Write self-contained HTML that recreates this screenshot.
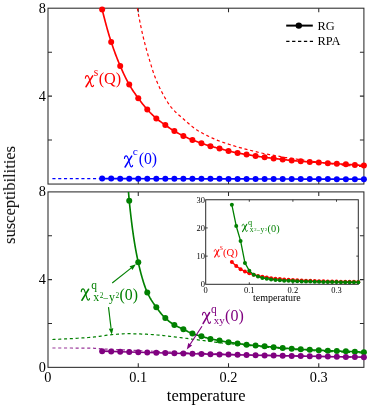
<!DOCTYPE html><html><head><meta charset="utf-8"><title>susceptibilities</title>
<style>html,body{margin:0;padding:0;background:#fff}svg{display:block}text{font-family:"Liberation Serif",serif}</style></head><body>
<svg width="370" height="409" viewBox="0 0 370 409">
<rect width="370" height="409" fill="#fff"/>
<g opacity="0.999">
<defs><clipPath id="c1"><rect x="48.0" y="8.2" width="315.9" height="177.85000000000002"/></clipPath>
<clipPath id="c2"><rect x="48.0" y="191.9" width="319.9" height="175.45000000000002"/></clipPath></defs>
<rect x="48.0" y="8.2" width="315.9" height="175.85000000000002" fill="none" stroke="#2a2a2a" stroke-width="1.05"/>
<path d="M138.26,8.2 v4.0 M138.26,184.05 v-4.0" stroke="#2a2a2a" stroke-width="1.05"/>
<path d="M228.51,8.2 v4.0 M228.51,184.05 v-4.0" stroke="#2a2a2a" stroke-width="1.05"/>
<path d="M318.77,8.2 v4.0 M318.77,184.05 v-4.0" stroke="#2a2a2a" stroke-width="1.05"/>
<path d="M48.0,140.09 h4.0 M363.9,140.09 h-4.0" stroke="#2a2a2a" stroke-width="1.05"/>
<path d="M48.0,96.12 h4.0 M363.9,96.12 h-4.0" stroke="#2a2a2a" stroke-width="1.05"/>
<path d="M48.0,52.16 h4.0 M363.9,52.16 h-4.0" stroke="#2a2a2a" stroke-width="1.05"/>
<g clip-path="url(#c1)"><path d="M137.30,8.10 L138.44,14.24 L139.58,20.13 L140.72,25.76 L141.85,31.09 L142.99,36.11 L144.13,40.79 L145.27,45.20 L146.41,49.37 L147.55,53.38 L148.69,57.27 L149.83,61.09 L150.96,64.89 L152.10,68.59 L153.24,72.10 L154.38,75.35 L155.52,78.30 L156.66,81.09 L157.80,83.74 L158.94,86.25 L160.07,88.64 L161.21,90.90 L162.35,93.06 L163.49,95.15 L164.63,97.19 L165.77,99.17 L166.91,101.06 L168.04,102.86 L169.18,104.56 L170.32,106.15 L171.46,107.61 L172.60,108.95 L173.74,110.20 L174.88,111.38 L176.02,112.49 L177.15,113.56 L178.29,114.58 L179.43,115.57 L180.57,116.55 L181.71,117.51 L182.85,118.49 L183.99,119.48 L185.13,120.48 L186.26,121.49 L187.40,122.49 L188.54,123.49 L189.68,124.47 L190.82,125.44 L191.96,126.37 L193.10,127.28 L194.23,128.15 L195.37,128.97 L196.51,129.74 L197.65,130.47 L198.79,131.16 L199.93,131.82 L201.07,132.46 L202.21,133.07 L203.34,133.66 L204.48,134.25 L205.62,134.82 L206.76,135.38 L207.90,135.95 L209.04,136.51 L210.18,137.06 L211.32,137.60 L212.45,138.13 L213.59,138.65 L214.73,139.16 L215.87,139.65 L217.01,140.12 L218.15,140.58 L219.29,141.02 L220.42,141.44 L221.56,141.84 L222.70,142.24 L223.84,142.62 L224.98,143.00 L226.12,143.37 L227.26,143.74 L228.40,144.11 L229.53,144.47 L230.67,144.83 L231.81,145.19 L232.95,145.55 L234.09,145.90 L235.23,146.24 L236.37,146.58 L237.51,146.92 L238.64,147.25 L239.78,147.57 L240.92,147.88 L242.06,148.19 L243.20,148.49 L244.34,148.79 L245.48,149.09 L246.61,149.38 L247.75,149.66 L248.89,149.95 L250.03,150.23 L251.17,150.52 L252.31,150.80 L253.45,151.09 L254.59,151.38 L255.72,151.66 L256.86,151.95 L258.00,152.22 L259.14,152.50 L260.28,152.76 L261.42,153.02 L262.56,153.27 L263.69,153.50 L264.83,153.73 L265.97,153.95 L267.11,154.16 L268.25,154.36 L269.39,154.57 L270.53,154.76 L271.67,154.96 L272.80,155.16 L273.94,155.35 L275.08,155.55 L276.22,155.75 L277.36,155.96 L278.50,156.17 L279.64,156.39 L280.78,156.61 L281.91,156.83 L283.05,157.05 L284.19,157.27 L285.33,157.49 L286.47,157.69 L287.61,157.89 L288.75,158.07 L289.88,158.24 L291.02,158.41 L292.16,158.56 L293.30,158.72 L294.44,158.87 L295.58,159.02 L296.72,159.17 L297.86,159.32 L298.99,159.48 L300.13,159.65 L301.27,159.81 L302.41,159.97 L303.55,160.13 L304.69,160.30 L305.83,160.45 L306.97,160.61 L308.10,160.76 L309.24,160.91 L310.38,161.05 L311.52,161.20 L312.66,161.34 L313.80,161.48 L314.94,161.63 L316.07,161.77 L317.21,161.92 L318.35,162.07 L319.49,162.22 L320.63,162.37 L321.77,162.52 L322.91,162.67 L324.05,162.82 L325.18,162.97 L326.32,163.12 L327.46,163.26 L328.60,163.40 L329.74,163.54 L330.88,163.69 L332.02,163.83 L333.16,163.98 L334.29,164.12 L335.43,164.26 L336.57,164.40 L337.71,164.54 L338.85,164.67 L339.99,164.80 L341.13,164.92 L342.26,165.04 L343.40,165.15 L344.54,165.26 L345.68,165.36 L346.82,165.46 L347.96,165.55 L349.10,165.64 L350.24,165.73 L351.37,165.82 L352.51,165.91 L353.65,165.99 L354.79,166.07 L355.93,166.15 L357.07,166.23 L358.21,166.30 L359.35,166.37 L360.48,166.43 L361.62,166.49 L362.76,166.55 L363.90,166.60" fill="none" stroke="#ff0000" stroke-width="1.2" stroke-dasharray="3.1,2.7"/></g>
<path d="M52.4,178.6 L102.15428571428572,178.6" fill="none" stroke="#0000ff" stroke-width="1.2" stroke-dasharray="3.1,2.7"/>
<path d="M102.15,9.50 L102.81,12.14 L103.47,14.74 L104.12,17.30 L104.78,19.82 L105.43,22.30 L106.09,24.73 L106.75,27.11 L107.40,29.45 L108.06,31.74 L108.71,33.97 L109.37,36.16 L110.03,38.29 L110.68,40.36 L111.34,42.38 L111.99,44.35 L112.65,46.28 L113.31,48.17 L113.96,50.02 L114.62,51.83 L115.27,53.61 L115.93,55.34 L116.59,57.05 L117.24,58.72 L117.90,60.36 L118.55,61.97 L119.21,63.55 L119.87,65.11 L120.52,66.64 L121.18,68.15 L121.83,69.63 L122.49,71.10 L123.15,72.55 L123.80,73.97 L124.46,75.36 L125.11,76.73 L125.77,78.07 L126.43,79.38 L127.08,80.66 L127.74,81.90 L128.39,83.11 L129.05,84.28 L129.71,85.42 L130.36,86.53 L131.02,87.61 L131.67,88.66 L132.33,89.68 L132.99,90.69 L133.64,91.67 L134.30,92.64 L134.95,93.59 L135.61,94.53 L136.27,95.45 L136.92,96.36 L137.58,97.27 L138.23,98.17 L138.89,99.06 L139.55,99.95 L140.20,100.82 L140.86,101.69 L141.51,102.54 L142.17,103.39 L142.83,104.22 L143.48,105.04 L144.14,105.84 L144.79,106.64 L145.45,107.41 L146.11,108.18 L146.76,108.92 L147.42,109.65 L148.07,110.37 L148.73,111.07 L149.39,111.77 L150.04,112.46 L150.70,113.13 L151.35,113.80 L152.01,114.45 L152.67,115.09 L153.32,115.72 L153.98,116.33 L154.63,116.93 L155.29,117.52 L155.95,118.09 L156.60,118.65 L157.26,119.19 L157.91,119.72 L158.57,120.23 L159.23,120.73 L159.88,121.22 L160.54,121.71 L161.19,122.18 L161.85,122.65 L162.51,123.12 L163.16,123.58 L163.82,124.04 L164.47,124.50 L165.13,124.96 L165.79,125.42 L166.44,125.88 L167.10,126.34 L167.75,126.79 L168.41,127.25 L169.07,127.70 L169.72,128.14 L170.38,128.58 L171.03,129.02 L171.69,129.44 L172.35,129.86 L173.00,130.28 L173.66,130.68 L174.31,131.07 L174.97,131.46 L175.63,131.84 L176.28,132.21 L176.94,132.57 L177.59,132.93 L178.25,133.28 L178.91,133.63 L179.56,133.98 L180.22,134.31 L180.87,134.65 L181.53,134.98 L182.19,135.31 L182.84,135.63 L183.50,135.96 L184.15,136.28 L184.81,136.59 L185.47,136.91 L186.12,137.22 L186.78,137.53 L187.43,137.84 L188.09,138.14 L188.75,138.44 L189.40,138.73 L190.06,139.02 L190.71,139.30 L191.37,139.58 L192.03,139.85 L192.68,140.11 L193.34,140.36 L193.99,140.61 L194.65,140.85 L195.31,141.09 L195.96,141.33 L196.62,141.56 L197.27,141.78 L197.93,142.01 L198.59,142.23 L199.24,142.45 L199.90,142.68 L200.55,142.90 L201.21,143.12 L201.87,143.35 L202.52,143.57 L203.18,143.80 L203.83,144.03 L204.49,144.26 L205.15,144.49 L205.80,144.71 L206.46,144.93 L207.11,145.15 L207.77,145.37 L208.43,145.58 L209.08,145.79 L209.74,145.99 L210.39,146.18 L211.05,146.37 L211.71,146.55 L212.36,146.72 L213.02,146.89 L213.68,147.06 L214.33,147.22 L214.99,147.38 L215.64,147.54 L216.30,147.70 L216.96,147.86 L217.61,148.03 L218.27,148.19 L218.92,148.35 L219.58,148.52 L220.24,148.70 L220.89,148.87 L221.55,149.05 L222.20,149.22 L222.86,149.40 L223.52,149.58 L224.17,149.76 L224.83,149.94 L225.48,150.11 L226.14,150.29 L226.80,150.46 L227.45,150.63 L228.11,150.80 L228.76,150.96 L229.42,151.13 L230.08,151.29 L230.73,151.45 L231.39,151.61 L232.04,151.77 L232.70,151.93 L233.36,152.09 L234.01,152.24 L234.67,152.39 L235.32,152.54 L235.98,152.68 L236.64,152.82 L237.29,152.95 L237.95,153.08 L238.60,153.20 L239.26,153.32 L239.92,153.43 L240.57,153.54 L241.23,153.65 L241.88,153.75 L242.54,153.86 L243.20,153.96 L243.85,154.06 L244.51,154.17 L245.16,154.27 L245.82,154.38 L246.48,154.48 L247.13,154.59 L247.79,154.70 L248.44,154.82 L249.10,154.93 L249.76,155.04 L250.41,155.15 L251.07,155.26 L251.72,155.37 L252.38,155.48 L253.04,155.59 L253.69,155.70 L254.35,155.80 L255.00,155.91 L255.66,156.01 L256.32,156.11 L256.97,156.21 L257.63,156.31 L258.28,156.41 L258.94,156.51 L259.60,156.60 L260.25,156.70 L260.91,156.79 L261.56,156.88 L262.22,156.97 L262.88,157.07 L263.53,157.15 L264.19,157.24 L264.84,157.33 L265.50,157.41 L266.16,157.50 L266.81,157.58 L267.47,157.66 L268.12,157.74 L268.78,157.82 L269.44,157.90 L270.09,157.98 L270.75,158.05 L271.40,158.13 L272.06,158.21 L272.72,158.29 L273.37,158.37 L274.03,158.45 L274.68,158.53 L275.34,158.61 L276.00,158.69 L276.65,158.77 L277.31,158.85 L277.96,158.94 L278.62,159.02 L279.28,159.10 L279.93,159.18 L280.59,159.26 L281.24,159.34 L281.90,159.41 L282.56,159.49 L283.21,159.56 L283.87,159.63 L284.52,159.71 L285.18,159.78 L285.84,159.85 L286.49,159.92 L287.15,159.99 L287.80,160.06 L288.46,160.12 L289.12,160.19 L289.77,160.26 L290.43,160.32 L291.08,160.39 L291.74,160.45 L292.40,160.52 L293.05,160.59 L293.71,160.65 L294.36,160.72 L295.02,160.78 L295.68,160.85 L296.33,160.91 L296.99,160.97 L297.64,161.04 L298.30,161.10 L298.96,161.15 L299.61,161.21 L300.27,161.26 L300.92,161.32 L301.58,161.37 L302.24,161.41 L302.89,161.46 L303.55,161.50 L304.20,161.55 L304.86,161.59 L305.52,161.63 L306.17,161.67 L306.83,161.71 L307.48,161.75 L308.14,161.80 L308.80,161.84 L309.45,161.88 L310.11,161.92 L310.76,161.97 L311.42,162.01 L312.08,162.05 L312.73,162.10 L313.39,162.14 L314.04,162.18 L314.70,162.22 L315.36,162.27 L316.01,162.31 L316.67,162.35 L317.32,162.40 L317.98,162.44 L318.64,162.49 L319.29,162.54 L319.95,162.59 L320.60,162.64 L321.26,162.69 L321.92,162.74 L322.57,162.79 L323.23,162.85 L323.88,162.90 L324.54,162.95 L325.20,163.00 L325.85,163.05 L326.51,163.10 L327.16,163.15 L327.82,163.20 L328.48,163.25 L329.13,163.29 L329.79,163.34 L330.44,163.39 L331.10,163.43 L331.76,163.48 L332.41,163.52 L333.07,163.56 L333.72,163.61 L334.38,163.65 L335.04,163.69 L335.69,163.73 L336.35,163.77 L337.00,163.81 L337.66,163.85 L338.32,163.89 L338.97,163.92 L339.63,163.96 L340.28,163.99 L340.94,164.03 L341.60,164.06 L342.25,164.10 L342.91,164.13 L343.56,164.17 L344.22,164.21 L344.88,164.24 L345.53,164.28 L346.19,164.32 L346.84,164.36 L347.50,164.40 L348.16,164.44 L348.81,164.49 L349.47,164.53 L350.12,164.57 L350.78,164.62 L351.44,164.66 L352.09,164.70 L352.75,164.75 L353.40,164.80 L354.06,164.84 L354.72,164.89 L355.37,164.94 L356.03,164.98 L356.68,165.03 L357.34,165.08 L358.00,165.13 L358.65,165.18 L359.31,165.23 L359.96,165.28 L360.62,165.33 L361.28,165.39 L361.93,165.44 L362.59,165.49 L363.24,165.55 L363.90,165.60" fill="none" stroke="#ff0000" stroke-width="1.65" stroke-linejoin="round"/>
<circle cx="102.15" cy="9.50" r="3.0" fill="#ff0000"/>
<circle cx="111.18" cy="41.90" r="3.0" fill="#ff0000"/>
<circle cx="120.21" cy="65.90" r="3.0" fill="#ff0000"/>
<circle cx="129.23" cy="84.60" r="3.0" fill="#ff0000"/>
<circle cx="138.26" cy="98.20" r="3.0" fill="#ff0000"/>
<circle cx="147.28" cy="109.50" r="3.0" fill="#ff0000"/>
<circle cx="156.31" cy="118.40" r="3.0" fill="#ff0000"/>
<circle cx="165.33" cy="125.10" r="3.0" fill="#ff0000"/>
<circle cx="174.36" cy="131.10" r="3.0" fill="#ff0000"/>
<circle cx="183.39" cy="135.90" r="3.0" fill="#ff0000"/>
<circle cx="192.41" cy="140.00" r="3.0" fill="#ff0000"/>
<circle cx="201.44" cy="143.20" r="3.0" fill="#ff0000"/>
<circle cx="210.46" cy="146.20" r="3.0" fill="#ff0000"/>
<circle cx="219.49" cy="148.50" r="3.0" fill="#ff0000"/>
<circle cx="228.51" cy="150.90" r="3.0" fill="#ff0000"/>
<circle cx="237.54" cy="153.00" r="3.0" fill="#ff0000"/>
<circle cx="246.57" cy="154.50" r="3.0" fill="#ff0000"/>
<circle cx="255.59" cy="156.00" r="3.0" fill="#ff0000"/>
<circle cx="264.62" cy="157.30" r="3.0" fill="#ff0000"/>
<circle cx="273.64" cy="158.40" r="3.0" fill="#ff0000"/>
<circle cx="282.67" cy="159.50" r="3.0" fill="#ff0000"/>
<circle cx="291.69" cy="160.45" r="3.0" fill="#ff0000"/>
<circle cx="300.72" cy="161.30" r="3.0" fill="#ff0000"/>
<circle cx="309.75" cy="161.90" r="3.0" fill="#ff0000"/>
<circle cx="318.77" cy="162.50" r="3.0" fill="#ff0000"/>
<circle cx="327.80" cy="163.20" r="3.0" fill="#ff0000"/>
<circle cx="336.82" cy="163.80" r="3.0" fill="#ff0000"/>
<circle cx="345.85" cy="164.30" r="3.0" fill="#ff0000"/>
<circle cx="354.87" cy="164.90" r="3.0" fill="#ff0000"/>
<circle cx="363.90" cy="165.60" r="3.0" fill="#ff0000"/>
<path d="M102.15,178.60 L111.18,178.62 L120.21,178.64 L129.23,178.66 L138.26,178.68 L147.28,178.70 L156.31,178.72 L165.33,178.74 L174.36,178.77 L183.39,178.79 L192.41,178.81 L201.44,178.83 L210.46,178.85 L219.49,178.87 L228.51,178.89 L237.54,178.91 L246.57,178.93 L255.59,178.95 L264.62,178.97 L273.64,178.99 L282.67,179.01 L291.69,179.03 L300.72,179.06 L309.75,179.08 L318.77,179.10 L327.80,179.12 L336.82,179.14 L345.85,179.16 L354.87,179.18 L363.90,179.20" fill="none" stroke="#0000ff" stroke-width="1.65"/>
<circle cx="102.15" cy="178.60" r="3.0" fill="#0000ff"/>
<circle cx="111.18" cy="178.62" r="3.0" fill="#0000ff"/>
<circle cx="120.21" cy="178.64" r="3.0" fill="#0000ff"/>
<circle cx="129.23" cy="178.66" r="3.0" fill="#0000ff"/>
<circle cx="138.26" cy="178.68" r="3.0" fill="#0000ff"/>
<circle cx="147.28" cy="178.70" r="3.0" fill="#0000ff"/>
<circle cx="156.31" cy="178.72" r="3.0" fill="#0000ff"/>
<circle cx="165.33" cy="178.74" r="3.0" fill="#0000ff"/>
<circle cx="174.36" cy="178.77" r="3.0" fill="#0000ff"/>
<circle cx="183.39" cy="178.79" r="3.0" fill="#0000ff"/>
<circle cx="192.41" cy="178.81" r="3.0" fill="#0000ff"/>
<circle cx="201.44" cy="178.83" r="3.0" fill="#0000ff"/>
<circle cx="210.46" cy="178.85" r="3.0" fill="#0000ff"/>
<circle cx="219.49" cy="178.87" r="3.0" fill="#0000ff"/>
<circle cx="228.51" cy="178.89" r="3.0" fill="#0000ff"/>
<circle cx="237.54" cy="178.91" r="3.0" fill="#0000ff"/>
<circle cx="246.57" cy="178.93" r="3.0" fill="#0000ff"/>
<circle cx="255.59" cy="178.95" r="3.0" fill="#0000ff"/>
<circle cx="264.62" cy="178.97" r="3.0" fill="#0000ff"/>
<circle cx="273.64" cy="178.99" r="3.0" fill="#0000ff"/>
<circle cx="282.67" cy="179.01" r="3.0" fill="#0000ff"/>
<circle cx="291.69" cy="179.03" r="3.0" fill="#0000ff"/>
<circle cx="300.72" cy="179.06" r="3.0" fill="#0000ff"/>
<circle cx="309.75" cy="179.08" r="3.0" fill="#0000ff"/>
<circle cx="318.77" cy="179.10" r="3.0" fill="#0000ff"/>
<circle cx="327.80" cy="179.12" r="3.0" fill="#0000ff"/>
<circle cx="336.82" cy="179.14" r="3.0" fill="#0000ff"/>
<circle cx="345.85" cy="179.16" r="3.0" fill="#0000ff"/>
<circle cx="354.87" cy="179.18" r="3.0" fill="#0000ff"/>
<circle cx="363.90" cy="179.20" r="3.0" fill="#0000ff"/>
<rect x="48.0" y="191.9" width="315.9" height="175.45000000000002" fill="none" stroke="#2a2a2a" stroke-width="1.05"/>
<path d="M138.26,191.9 v4.0 M138.26,367.35 v-4.0" stroke="#2a2a2a" stroke-width="1.05"/>
<path d="M228.51,191.9 v4.0 M228.51,367.35 v-4.0" stroke="#2a2a2a" stroke-width="1.05"/>
<path d="M318.77,191.9 v4.0 M318.77,367.35 v-4.0" stroke="#2a2a2a" stroke-width="1.05"/>
<path d="M48.0,323.49 h4.0 M363.9,323.49 h-4.0" stroke="#2a2a2a" stroke-width="1.05"/>
<path d="M48.0,279.62 h4.0 M363.9,279.62 h-4.0" stroke="#2a2a2a" stroke-width="1.05"/>
<path d="M48.0,235.76 h4.0 M363.9,235.76 h-4.0" stroke="#2a2a2a" stroke-width="1.05"/>
<path d="M52.40,339.50 L53.97,339.44 L55.53,339.39 L57.10,339.32 L58.66,339.26 L60.23,339.19 L61.79,339.12 L63.36,339.04 L64.92,338.97 L66.49,338.89 L68.05,338.81 L69.62,338.72 L71.18,338.63 L72.75,338.55 L74.31,338.45 L75.88,338.36 L77.45,338.26 L79.01,338.16 L80.58,338.06 L82.14,337.95 L83.71,337.84 L85.27,337.73 L86.84,337.61 L88.40,337.48 L89.97,337.35 L91.53,337.22 L93.10,337.08 L94.66,336.93 L96.23,336.77 L97.79,336.58 L99.36,336.36 L100.93,336.12 L102.49,335.87 L104.06,335.63 L105.62,335.39 L107.19,335.16 L108.75,334.96 L110.32,334.78 L111.88,334.64 L113.45,334.51 L115.01,334.37 L116.58,334.24 L118.14,334.11 L119.71,334.00 L121.27,333.90 L122.84,333.81 L124.41,333.75 L125.97,333.71 L127.54,333.70 L129.10,333.71 L130.67,333.72 L132.23,333.75 L133.80,333.78 L135.36,333.82 L136.93,333.87 L138.49,333.92 L140.06,333.97 L141.62,334.03 L143.19,334.09 L144.75,334.15 L146.32,334.22 L147.88,334.30 L149.45,334.39 L151.02,334.50 L152.58,334.61 L154.15,334.73 L155.71,334.85 L157.28,334.98 L158.84,335.11 L160.41,335.24 L161.97,335.40 L163.54,335.56 L165.10,335.75 L166.67,335.94 L168.23,336.13 L169.80,336.33 L171.36,336.53 L172.93,336.72 L174.50,336.90 L176.06,337.09 L177.63,337.28 L179.19,337.48 L180.76,337.67 L182.32,337.86 L183.89,338.06 L185.45,338.26 L187.02,338.45 L188.58,338.65 L190.15,338.85 L191.71,339.05 L193.28,339.25 L194.84,339.46 L196.41,339.66 L197.98,339.86 L199.54,340.07 L201.11,340.27 L202.67,340.48 L204.24,340.68 L205.80,340.89 L207.37,341.09 L208.93,341.30 L210.50,341.51 L212.06,341.72 L213.63,341.94 L215.19,342.15 L216.76,342.36 L218.32,342.56 L219.89,342.75 L221.46,342.93 L223.02,343.09 L224.59,343.25 L226.15,343.39 L227.72,343.53 L229.28,343.67 L230.85,343.81 L232.41,343.94 L233.98,344.07 L235.54,344.20 L237.11,344.34 L238.67,344.48 L240.24,344.62 L241.80,344.77 L243.37,344.92 L244.94,345.07 L246.50,345.22 L248.07,345.38 L249.63,345.53 L251.20,345.69 L252.76,345.85 L254.33,346.00 L255.89,346.16 L257.46,346.32 L259.02,346.47 L260.59,346.62 L262.15,346.78 L263.72,346.93 L265.28,347.07 L266.85,347.22 L268.42,347.36 L269.98,347.50 L271.55,347.64 L273.11,347.77 L274.68,347.91 L276.24,348.04 L277.81,348.18 L279.37,348.31 L280.94,348.44 L282.50,348.57 L284.07,348.70 L285.63,348.83 L287.20,348.96 L288.76,349.08 L290.33,349.20 L291.89,349.32 L293.46,349.44 L295.03,349.55 L296.59,349.67 L298.16,349.78 L299.72,349.88 L301.29,349.98 L302.85,350.09 L304.42,350.19 L305.98,350.29 L307.55,350.38 L309.11,350.48 L310.68,350.57 L312.24,350.67 L313.81,350.76 L315.37,350.85 L316.94,350.94 L318.51,351.02 L320.07,351.11 L321.64,351.19 L323.20,351.27 L324.77,351.35 L326.33,351.43 L327.90,351.50 L329.46,351.58 L331.03,351.65 L332.59,351.72 L334.16,351.79 L335.72,351.86 L337.29,351.93 L338.85,351.99 L340.42,352.06 L341.99,352.12 L343.55,352.19 L345.12,352.25 L346.68,352.31 L348.25,352.37 L349.81,352.43 L351.38,352.49 L352.94,352.55 L354.51,352.60 L356.07,352.66 L357.64,352.71 L359.20,352.76 L360.77,352.81 L362.33,352.85 L363.90,352.90" fill="none" stroke="#008000" stroke-width="1.2" stroke-dasharray="3.1,2.7"/>
<path d="M52.40,348.00 L53.97,348.00 L55.53,348.00 L57.10,348.00 L58.66,348.00 L60.23,348.00 L61.79,348.00 L63.36,348.01 L64.92,348.01 L66.49,348.01 L68.05,348.01 L69.62,348.02 L71.18,348.02 L72.75,348.03 L74.31,348.03 L75.88,348.03 L77.45,348.04 L79.01,348.05 L80.58,348.05 L82.14,348.06 L83.71,348.07 L85.27,348.07 L86.84,348.08 L88.40,348.09 L89.97,348.10 L91.53,348.13 L93.10,348.21 L94.66,348.32 L96.23,348.44 L97.79,348.58 L99.36,348.71 L100.93,348.83 L102.49,348.93 L104.06,349.01 L105.62,349.09 L107.19,349.17 L108.75,349.25 L110.32,349.33 L111.88,349.40 L113.45,349.47 L115.01,349.54 L116.58,349.61 L118.14,349.68 L119.71,349.74 L121.27,349.81 L122.84,349.88 L124.41,349.95 L125.97,350.02 L127.54,350.09 L129.10,350.16 L130.67,350.23 L132.23,350.30 L133.80,350.38 L135.36,350.45 L136.93,350.53 L138.49,350.60 L140.06,350.67 L141.62,350.75 L143.19,350.82 L144.75,350.90 L146.32,350.97 L147.88,351.04 L149.45,351.12 L151.02,351.19 L152.58,351.26 L154.15,351.33 L155.71,351.41 L157.28,351.48 L158.84,351.55 L160.41,351.62 L161.97,351.69 L163.54,351.76 L165.10,351.83 L166.67,351.90 L168.23,351.97 L169.80,352.04 L171.36,352.10 L172.93,352.17 L174.50,352.24 L176.06,352.31 L177.63,352.38 L179.19,352.45 L180.76,352.51 L182.32,352.58 L183.89,352.65 L185.45,352.71 L187.02,352.78 L188.58,352.84 L190.15,352.91 L191.71,352.97 L193.28,353.04 L194.84,353.10 L196.41,353.16 L197.98,353.22 L199.54,353.28 L201.11,353.34 L202.67,353.40 L204.24,353.46 L205.80,353.52 L207.37,353.58 L208.93,353.64 L210.50,353.70 L212.06,353.76 L213.63,353.82 L215.19,353.88 L216.76,353.93 L218.32,353.99 L219.89,354.05 L221.46,354.10 L223.02,354.16 L224.59,354.21 L226.15,354.27 L227.72,354.32 L229.28,354.37 L230.85,354.42 L232.41,354.47 L233.98,354.52 L235.54,354.57 L237.11,354.62 L238.67,354.66 L240.24,354.71 L241.80,354.75 L243.37,354.79 L244.94,354.84 L246.50,354.88 L248.07,354.92 L249.63,354.96 L251.20,355.00 L252.76,355.04 L254.33,355.08 L255.89,355.12 L257.46,355.16 L259.02,355.20 L260.59,355.24 L262.15,355.27 L263.72,355.31 L265.28,355.35 L266.85,355.38 L268.42,355.42 L269.98,355.46 L271.55,355.49 L273.11,355.53 L274.68,355.56 L276.24,355.60 L277.81,355.63 L279.37,355.66 L280.94,355.70 L282.50,355.73 L284.07,355.77 L285.63,355.80 L287.20,355.83 L288.76,355.87 L290.33,355.90 L291.89,355.93 L293.46,355.96 L295.03,356.00 L296.59,356.03 L298.16,356.06 L299.72,356.09 L301.29,356.13 L302.85,356.16 L304.42,356.19 L305.98,356.22 L307.55,356.26 L309.11,356.29 L310.68,356.32 L312.24,356.35 L313.81,356.38 L315.37,356.41 L316.94,356.44 L318.51,356.48 L320.07,356.51 L321.64,356.54 L323.20,356.57 L324.77,356.60 L326.33,356.63 L327.90,356.66 L329.46,356.69 L331.03,356.72 L332.59,356.75 L334.16,356.78 L335.72,356.81 L337.29,356.83 L338.85,356.86 L340.42,356.89 L341.99,356.92 L343.55,356.95 L345.12,356.98 L346.68,357.01 L348.25,357.03 L349.81,357.06 L351.38,357.09 L352.94,357.12 L354.51,357.14 L356.07,357.17 L357.64,357.20 L359.20,357.22 L360.77,357.25 L362.33,357.27 L363.90,357.30" fill="none" stroke="#800080" stroke-width="1.2" stroke-dasharray="3.1,2.7" stroke-opacity="0.8"/>
<g clip-path="url(#c2)"><path d="M102.15,-251.11 L102.81,-237.51 L103.47,-224.13 L104.12,-210.98 L104.78,-198.07 L105.43,-185.41 L106.09,-173.00 L106.75,-160.87 L107.40,-149.01 L108.06,-137.44 L108.71,-126.17 L109.37,-115.21 L110.03,-104.56 L110.68,-94.24 L111.34,-84.26 L111.99,-74.81 L112.65,-65.90 L113.31,-57.43 L113.96,-49.31 L114.62,-41.42 L115.27,-33.69 L115.93,-26.00 L116.59,-18.27 L117.24,-10.39 L117.90,-2.28 L118.55,6.18 L119.21,15.07 L119.87,24.49 L120.52,34.64 L121.18,46.08 L121.83,58.67 L122.49,72.16 L123.15,86.28 L123.80,100.77 L124.46,115.37 L125.11,129.82 L125.77,143.87 L126.43,157.24 L127.08,169.68 L127.74,180.93 L128.39,190.72 L129.05,198.81 L129.71,205.37 L130.36,211.49 L131.02,217.25 L131.67,222.68 L132.33,227.78 L132.99,232.58 L133.64,237.09 L134.30,241.34 L134.95,245.33 L135.61,249.10 L136.27,252.65 L136.92,256.00 L137.58,259.18 L138.23,262.20 L138.89,265.09 L139.55,267.86 L140.20,270.53 L140.86,273.09 L141.51,275.53 L142.17,277.87 L142.83,280.10 L143.48,282.22 L144.14,284.24 L144.79,286.14 L145.45,287.94 L146.11,289.63 L146.76,291.22 L147.42,292.70 L148.07,294.09 L148.73,295.41 L149.39,296.66 L150.04,297.85 L150.70,298.99 L151.35,300.07 L152.01,301.11 L152.67,302.12 L153.32,303.09 L153.98,304.04 L154.63,304.97 L155.29,305.89 L155.95,306.80 L156.60,307.71 L157.26,308.61 L157.91,309.49 L158.57,310.36 L159.23,311.22 L159.88,312.06 L160.54,312.88 L161.19,313.67 L161.85,314.45 L162.51,315.20 L163.16,315.92 L163.82,316.61 L164.47,317.28 L165.13,317.91 L165.79,318.51 L166.44,319.10 L167.10,319.67 L167.75,320.22 L168.41,320.76 L169.07,321.28 L169.72,321.78 L170.38,322.27 L171.03,322.74 L171.69,323.20 L172.35,323.64 L173.00,324.07 L173.66,324.48 L174.31,324.87 L174.97,325.25 L175.63,325.62 L176.28,325.96 L176.94,326.30 L177.59,326.62 L178.25,326.93 L178.91,327.24 L179.56,327.54 L180.22,327.84 L180.87,328.14 L181.53,328.43 L182.19,328.74 L182.84,329.04 L183.50,329.35 L184.15,329.68 L184.81,330.01 L185.47,330.34 L186.12,330.67 L186.78,331.01 L187.43,331.34 L188.09,331.68 L188.75,332.00 L189.40,332.32 L190.06,332.62 L190.71,332.91 L191.37,333.19 L192.03,333.46 L192.68,333.70 L193.34,333.93 L193.99,334.15 L194.65,334.36 L195.31,334.56 L195.96,334.76 L196.62,334.95 L197.27,335.13 L197.93,335.32 L198.59,335.50 L199.24,335.68 L199.90,335.86 L200.55,336.05 L201.21,336.23 L201.87,336.43 L202.52,336.62 L203.18,336.82 L203.83,337.03 L204.49,337.23 L205.15,337.43 L205.80,337.63 L206.46,337.83 L207.11,338.02 L207.77,338.21 L208.43,338.39 L209.08,338.56 L209.74,338.73 L210.39,338.88 L211.05,339.03 L211.71,339.17 L212.36,339.31 L213.02,339.44 L213.68,339.56 L214.33,339.68 L214.99,339.80 L215.64,339.92 L216.30,340.04 L216.96,340.15 L217.61,340.27 L218.27,340.38 L218.92,340.50 L219.58,340.62 L220.24,340.74 L220.89,340.86 L221.55,340.98 L222.20,341.10 L222.86,341.22 L223.52,341.34 L224.17,341.46 L224.83,341.57 L225.48,341.69 L226.14,341.81 L226.80,341.92 L227.45,342.03 L228.11,342.13 L228.76,342.24 L229.42,342.34 L230.08,342.44 L230.73,342.54 L231.39,342.64 L232.04,342.74 L232.70,342.83 L233.36,342.92 L234.01,343.02 L234.67,343.11 L235.32,343.20 L235.98,343.29 L236.64,343.38 L237.29,343.47 L237.95,343.55 L238.60,343.64 L239.26,343.73 L239.92,343.82 L240.57,343.90 L241.23,343.99 L241.88,344.08 L242.54,344.16 L243.20,344.24 L243.85,344.32 L244.51,344.41 L245.16,344.48 L245.82,344.56 L246.48,344.64 L247.13,344.72 L247.79,344.79 L248.44,344.86 L249.10,344.94 L249.76,345.01 L250.41,345.08 L251.07,345.15 L251.72,345.22 L252.38,345.29 L253.04,345.36 L253.69,345.42 L254.35,345.49 L255.00,345.55 L255.66,345.61 L256.32,345.66 L256.97,345.72 L257.63,345.77 L258.28,345.82 L258.94,345.87 L259.60,345.92 L260.25,345.96 L260.91,346.01 L261.56,346.06 L262.22,346.11 L262.88,346.16 L263.53,346.21 L264.19,346.26 L264.84,346.32 L265.50,346.38 L266.16,346.44 L266.81,346.50 L267.47,346.57 L268.12,346.64 L268.78,346.70 L269.44,346.77 L270.09,346.84 L270.75,346.91 L271.40,346.98 L272.06,347.04 L272.72,347.11 L273.37,347.17 L274.03,347.24 L274.68,347.30 L275.34,347.37 L276.00,347.43 L276.65,347.50 L277.31,347.56 L277.96,347.62 L278.62,347.69 L279.28,347.75 L279.93,347.81 L280.59,347.87 L281.24,347.93 L281.90,347.99 L282.56,348.04 L283.21,348.09 L283.87,348.14 L284.52,348.19 L285.18,348.24 L285.84,348.29 L286.49,348.34 L287.15,348.38 L287.80,348.43 L288.46,348.47 L289.12,348.52 L289.77,348.56 L290.43,348.61 L291.08,348.66 L291.74,348.70 L292.40,348.75 L293.05,348.80 L293.71,348.85 L294.36,348.90 L295.02,348.95 L295.68,349.00 L296.33,349.05 L296.99,349.10 L297.64,349.15 L298.30,349.19 L298.96,349.24 L299.61,349.28 L300.27,349.32 L300.92,349.36 L301.58,349.40 L302.24,349.44 L302.89,349.47 L303.55,349.50 L304.20,349.54 L304.86,349.57 L305.52,349.60 L306.17,349.63 L306.83,349.66 L307.48,349.69 L308.14,349.73 L308.80,349.76 L309.45,349.79 L310.11,349.82 L310.76,349.85 L311.42,349.88 L312.08,349.91 L312.73,349.93 L313.39,349.96 L314.04,349.99 L314.70,350.02 L315.36,350.05 L316.01,350.08 L316.67,350.10 L317.32,350.13 L317.98,350.16 L318.64,350.19 L319.29,350.22 L319.95,350.26 L320.60,350.29 L321.26,350.32 L321.92,350.35 L322.57,350.39 L323.23,350.42 L323.88,350.45 L324.54,350.49 L325.20,350.52 L325.85,350.55 L326.51,350.59 L327.16,350.62 L327.82,350.65 L328.48,350.68 L329.13,350.72 L329.79,350.76 L330.44,350.79 L331.10,350.83 L331.76,350.87 L332.41,350.90 L333.07,350.94 L333.72,350.97 L334.38,351.00 L335.04,351.03 L335.69,351.06 L336.35,351.08 L337.00,351.11 L337.66,351.12 L338.32,351.14 L338.97,351.16 L339.63,351.17 L340.28,351.18 L340.94,351.19 L341.60,351.21 L342.25,351.22 L342.91,351.23 L343.56,351.24 L344.22,351.26 L344.88,351.27 L345.53,351.29 L346.19,351.31 L346.84,351.33 L347.50,351.36 L348.16,351.38 L348.81,351.41 L349.47,351.44 L350.12,351.47 L350.78,351.50 L351.44,351.53 L352.09,351.56 L352.75,351.59 L353.40,351.63 L354.06,351.66 L354.72,351.69 L355.37,351.72 L356.03,351.76 L356.68,351.79 L357.34,351.83 L358.00,351.86 L358.65,351.90 L359.31,351.93 L359.96,351.97 L360.62,352.01 L361.28,352.04 L361.93,352.08 L362.59,352.12 L363.24,352.16 L363.90,352.20" fill="none" stroke="#008000" stroke-width="1.65" stroke-linejoin="round"/>
<circle cx="102.15" cy="-251.11" r="3.0" fill="#008000"/>
<circle cx="111.18" cy="-86.63" r="3.0" fill="#008000"/>
<circle cx="120.21" cy="29.61" r="3.0" fill="#008000"/>
<circle cx="129.23" cy="200.70" r="3.0" fill="#008000"/>
<circle cx="138.26" cy="262.30" r="3.0" fill="#008000"/>
<circle cx="147.28" cy="292.40" r="3.0" fill="#008000"/>
<circle cx="156.31" cy="307.30" r="3.0" fill="#008000"/>
<circle cx="165.33" cy="318.10" r="3.0" fill="#008000"/>
<circle cx="174.36" cy="324.90" r="3.0" fill="#008000"/>
<circle cx="183.39" cy="329.30" r="3.0" fill="#008000"/>
<circle cx="192.41" cy="333.60" r="3.0" fill="#008000"/>
<circle cx="201.44" cy="336.30" r="3.0" fill="#008000"/>
<circle cx="210.46" cy="338.90" r="3.0" fill="#008000"/>
<circle cx="219.49" cy="340.60" r="3.0" fill="#008000"/>
<circle cx="228.51" cy="342.20" r="3.0" fill="#008000"/>
<circle cx="237.54" cy="343.50" r="3.0" fill="#008000"/>
<circle cx="246.57" cy="344.65" r="3.0" fill="#008000"/>
<circle cx="255.59" cy="345.60" r="3.0" fill="#008000"/>
<circle cx="264.62" cy="346.30" r="3.0" fill="#008000"/>
<circle cx="273.64" cy="347.20" r="3.0" fill="#008000"/>
<circle cx="282.67" cy="348.05" r="3.0" fill="#008000"/>
<circle cx="291.69" cy="348.70" r="3.0" fill="#008000"/>
<circle cx="300.72" cy="349.35" r="3.0" fill="#008000"/>
<circle cx="309.75" cy="349.80" r="3.0" fill="#008000"/>
<circle cx="318.77" cy="350.20" r="3.0" fill="#008000"/>
<circle cx="327.80" cy="350.65" r="3.0" fill="#008000"/>
<circle cx="336.82" cy="351.10" r="3.0" fill="#008000"/>
<circle cx="345.85" cy="351.30" r="3.0" fill="#008000"/>
<circle cx="354.87" cy="351.70" r="3.0" fill="#008000"/>
<circle cx="363.90" cy="352.20" r="3.0" fill="#008000"/>
</g>
<path d="M102.15,351.15 L111.18,351.43 L120.21,351.71 L129.23,351.98 L138.26,352.25 L147.28,352.51 L156.31,352.76 L165.33,353.01 L174.36,353.26 L183.39,353.50 L192.41,353.73 L201.44,353.96 L210.46,354.18 L219.49,354.40 L228.51,354.61 L237.54,354.82 L246.57,355.02 L255.59,355.21 L264.62,355.41 L273.64,355.59 L282.67,355.77 L291.69,355.94 L300.72,356.11 L309.75,356.28 L318.77,356.43 L327.80,356.59 L336.82,356.73 L345.85,356.88 L354.87,357.01 L363.90,357.14" fill="none" stroke="#800080" stroke-width="1.65"/>
<circle cx="102.15" cy="351.15" r="3.0" fill="#800080"/>
<circle cx="111.18" cy="351.43" r="3.0" fill="#800080"/>
<circle cx="120.21" cy="351.71" r="3.0" fill="#800080"/>
<circle cx="129.23" cy="351.98" r="3.0" fill="#800080"/>
<circle cx="138.26" cy="352.25" r="3.0" fill="#800080"/>
<circle cx="147.28" cy="352.51" r="3.0" fill="#800080"/>
<circle cx="156.31" cy="352.76" r="3.0" fill="#800080"/>
<circle cx="165.33" cy="353.01" r="3.0" fill="#800080"/>
<circle cx="174.36" cy="353.26" r="3.0" fill="#800080"/>
<circle cx="183.39" cy="353.50" r="3.0" fill="#800080"/>
<circle cx="192.41" cy="353.73" r="3.0" fill="#800080"/>
<circle cx="201.44" cy="353.96" r="3.0" fill="#800080"/>
<circle cx="210.46" cy="354.18" r="3.0" fill="#800080"/>
<circle cx="219.49" cy="354.40" r="3.0" fill="#800080"/>
<circle cx="228.51" cy="354.61" r="3.0" fill="#800080"/>
<circle cx="237.54" cy="354.82" r="3.0" fill="#800080"/>
<circle cx="246.57" cy="355.02" r="3.0" fill="#800080"/>
<circle cx="255.59" cy="355.21" r="3.0" fill="#800080"/>
<circle cx="264.62" cy="355.41" r="3.0" fill="#800080"/>
<circle cx="273.64" cy="355.59" r="3.0" fill="#800080"/>
<circle cx="282.67" cy="355.77" r="3.0" fill="#800080"/>
<circle cx="291.69" cy="355.94" r="3.0" fill="#800080"/>
<circle cx="300.72" cy="356.11" r="3.0" fill="#800080"/>
<circle cx="309.75" cy="356.28" r="3.0" fill="#800080"/>
<circle cx="318.77" cy="356.43" r="3.0" fill="#800080"/>
<circle cx="327.80" cy="356.59" r="3.0" fill="#800080"/>
<circle cx="336.82" cy="356.73" r="3.0" fill="#800080"/>
<circle cx="345.85" cy="356.88" r="3.0" fill="#800080"/>
<circle cx="354.87" cy="357.01" r="3.0" fill="#800080"/>
<circle cx="363.90" cy="357.14" r="3.0" fill="#800080"/>
<text x="46" y="12.9" font-size="14.3" text-anchor="end" fill="#000" >8</text>
<text x="46" y="100.6" font-size="14.3" text-anchor="end" fill="#000" >4</text>
<text x="46" y="196.4" font-size="14.3" text-anchor="end" fill="#000" >8</text>
<text x="46" y="284.3" font-size="14.3" text-anchor="end" fill="#000" >4</text>
<text x="46" y="372.2" font-size="14.3" text-anchor="end" fill="#000" >0</text>
<text x="47.85" y="381.9" font-size="14.3" text-anchor="middle" fill="#000" >0</text>
<text x="138.25714285714287" y="381.9" font-size="14.3" text-anchor="middle" fill="#000" >0.1</text>
<text x="228.51428571428573" y="381.9" font-size="14.3" text-anchor="middle" fill="#000" >0.2</text>
<text x="318.77142857142854" y="381.9" font-size="14.3" text-anchor="middle" fill="#000" >0.3</text>
<text x="206.2" y="400.8" font-size="16.5" text-anchor="middle" fill="#000" >temperature</text>
<text transform="translate(15.0,194.9) rotate(-90)" font-size="16.5" text-anchor="middle" fill="#000">susceptibilities</text>
<path d="M286.2,25.6 H312.8" stroke="#000" stroke-width="2.0"/><circle cx="298.8" cy="25.6" r="3.2" fill="#000"/>
<path d="M286.2,41.4 H313" stroke="#000" stroke-width="1.2" stroke-dasharray="3.3,2.6"/>
<text x="317.6" y="29.6" font-size="12.4" text-anchor="start" fill="#000" >RG</text>
<text x="317.6" y="44.7" font-size="12.4" text-anchor="start" fill="#000" >RPA</text>
<g transform="translate(84.90,75.00) scale(1.011,1.042)" fill="none" stroke="#ff0000" stroke-linecap="round"><path d="M0.45,3.1 C0.6,1.6 1.4,0.55 2.3,0.6 C3.2,0.7 3.7,1.8 4.1,3.0 L6.2,9.6 C6.5,10.7 7.1,11.4 7.8,11.1 C8.3,10.9 8.5,10.4 8.6,9.8" stroke-width="1.1"/><path d="M7.7,0.9 L1.1,11.3" stroke-width="1.5"/></g>
<text fill="#ff0000"><tspan x="93.8" y="75.5" font-size="11.6">s</tspan><tspan x="98.7" y="83.9" font-size="16.3">(Q)</tspan></text>
<g transform="translate(124.00,155.20) scale(1.000,1.042)" fill="none" stroke="#0000ff" stroke-linecap="round"><path d="M0.45,3.1 C0.6,1.6 1.4,0.55 2.3,0.6 C3.2,0.7 3.7,1.8 4.1,3.0 L6.2,9.6 C6.5,10.7 7.1,11.4 7.8,11.1 C8.3,10.9 8.5,10.4 8.6,9.8" stroke-width="1.1"/><path d="M7.7,0.9 L1.1,11.3" stroke-width="1.5"/></g>
<text fill="#0000ff"><tspan x="132.8" y="155.4" font-size="11.4">c</tspan><tspan x="138.7" y="164.2" font-size="15.8">(0)</tspan></text>
<g transform="translate(80.80,288.30) scale(1.011,1.058)" fill="none" stroke="#008000" stroke-linecap="round"><path d="M0.45,3.1 C0.6,1.6 1.4,0.55 2.3,0.6 C3.2,0.7 3.7,1.8 4.1,3.0 L6.2,9.6 C6.5,10.7 7.1,11.4 7.8,11.1 C8.3,10.9 8.5,10.4 8.6,9.8" stroke-width="1.1"/><path d="M7.7,0.9 L1.1,11.3" stroke-width="1.5"/></g>
<text fill="#008000"><tspan x="91.2" y="288.8" font-size="11.5">q</tspan><tspan x="93.2" y="300.9" font-size="11.8">x</tspan><tspan x="99.7" y="298.3" font-size="7.4">2</tspan><tspan x="103.1" y="301.9" font-size="10.2">−</tspan><tspan x="109.0" y="300.9" font-size="11.8">y</tspan><tspan x="115.4" y="298.3" font-size="7.4">2</tspan><tspan x="119.6" y="299.6" font-size="15.8">(0)</tspan></text>
<g transform="translate(202.00,311.60) scale(0.989,1.050)" fill="none" stroke="#800080" stroke-linecap="round"><path d="M0.45,3.1 C0.6,1.6 1.4,0.55 2.3,0.6 C3.2,0.7 3.7,1.8 4.1,3.0 L6.2,9.6 C6.5,10.7 7.1,11.4 7.8,11.1 C8.3,10.9 8.5,10.4 8.6,9.8" stroke-width="1.1"/><path d="M7.7,0.9 L1.1,11.3" stroke-width="1.5"/></g>
<text fill="#800080"><tspan x="211.0" y="312.8" font-size="11.5">q</tspan><tspan x="213.7" y="324.3" font-size="11">xy</tspan><tspan x="225.1" y="320.8" font-size="16.0">(0)</tspan></text>
<path d="M112.20,283.00 L131.03,268.14" stroke="#008000" stroke-width="1.15" fill="none"/>
<path d="M135.90,264.30 L132.46,269.95 L129.61,266.33 Z" fill="#008000"/>
<path d="M108.50,307.10 L111.06,328.44" stroke="#008000" stroke-width="1.15" fill="none"/>
<path d="M111.80,334.60 L108.78,328.72 L113.34,328.17 Z" fill="#008000"/>
<path d="M202.00,326.20 L190.20,344.21" stroke="#800080" stroke-width="1.15" fill="none"/>
<path d="M186.80,349.40 L188.27,342.95 L192.12,345.47 Z" fill="#800080"/>
<rect x="205.7" y="199.75" width="152.60000000000002" height="84.55000000000001" fill="#fff" stroke="#2a2a2a" stroke-width="1.0"/>
<path d="M249.30,199.75 v2 M249.30,284.3 v-2" stroke="#2a2a2a" stroke-width="0.9"/>
<path d="M292.90,199.75 v2 M292.90,284.3 v-2" stroke="#2a2a2a" stroke-width="0.9"/>
<path d="M336.50,199.75 v2 M336.50,284.3 v-2" stroke="#2a2a2a" stroke-width="0.9"/>
<path d="M205.7,256.12 h2 M358.3,256.12 h-2" stroke="#2a2a2a" stroke-width="0.9"/>
<path d="M205.7,227.93 h2 M358.3,227.93 h-2" stroke="#2a2a2a" stroke-width="0.9"/>
<path d="M231.86,261.92 L236.22,266.07 L240.58,269.15 L244.94,271.55 L249.30,273.29 L253.66,274.74 L258.02,275.88 L262.38,276.74 L266.74,277.51 L271.10,278.13 L275.46,278.65 L279.82,279.06 L284.18,279.45 L288.54,279.74 L292.90,280.05 L297.26,280.32 L301.62,280.51 L305.98,280.70 L310.34,280.87 L314.70,281.01 L319.06,281.15 L323.42,281.27 L327.78,281.38 L332.14,281.46 L336.50,281.54 L340.86,281.63 L345.22,281.70 L349.58,281.77 L353.94,281.84 L358.30,281.93" fill="none" stroke="#ff0000" stroke-width="1.3" stroke-linejoin="round"/>
<circle cx="231.86" cy="261.92" r="2.0" fill="#ff0000"/>
<circle cx="236.22" cy="266.07" r="2.0" fill="#ff0000"/>
<circle cx="240.58" cy="269.15" r="2.0" fill="#ff0000"/>
<circle cx="244.94" cy="271.55" r="2.0" fill="#ff0000"/>
<circle cx="249.30" cy="273.29" r="2.0" fill="#ff0000"/>
<circle cx="253.66" cy="274.74" r="2.0" fill="#ff0000"/>
<circle cx="258.02" cy="275.88" r="2.0" fill="#ff0000"/>
<circle cx="262.38" cy="276.74" r="2.0" fill="#ff0000"/>
<circle cx="266.74" cy="277.51" r="2.0" fill="#ff0000"/>
<circle cx="271.10" cy="278.13" r="2.0" fill="#ff0000"/>
<circle cx="275.46" cy="278.65" r="2.0" fill="#ff0000"/>
<circle cx="279.82" cy="279.06" r="2.0" fill="#ff0000"/>
<circle cx="284.18" cy="279.45" r="2.0" fill="#ff0000"/>
<circle cx="288.54" cy="279.74" r="2.0" fill="#ff0000"/>
<circle cx="292.90" cy="280.05" r="2.0" fill="#ff0000"/>
<circle cx="297.26" cy="280.32" r="2.0" fill="#ff0000"/>
<circle cx="301.62" cy="280.51" r="2.0" fill="#ff0000"/>
<circle cx="305.98" cy="280.70" r="2.0" fill="#ff0000"/>
<circle cx="310.34" cy="280.87" r="2.0" fill="#ff0000"/>
<circle cx="314.70" cy="281.01" r="2.0" fill="#ff0000"/>
<circle cx="319.06" cy="281.15" r="2.0" fill="#ff0000"/>
<circle cx="323.42" cy="281.27" r="2.0" fill="#ff0000"/>
<circle cx="327.78" cy="281.38" r="2.0" fill="#ff0000"/>
<circle cx="332.14" cy="281.46" r="2.0" fill="#ff0000"/>
<circle cx="336.50" cy="281.54" r="2.0" fill="#ff0000"/>
<circle cx="340.86" cy="281.63" r="2.0" fill="#ff0000"/>
<circle cx="345.22" cy="281.70" r="2.0" fill="#ff0000"/>
<circle cx="349.58" cy="281.77" r="2.0" fill="#ff0000"/>
<circle cx="353.94" cy="281.84" r="2.0" fill="#ff0000"/>
<circle cx="358.30" cy="281.93" r="2.0" fill="#ff0000"/>
<path d="M231.86,204.82 L236.22,225.96 L240.58,240.90 L244.94,262.88 L249.30,270.80 L253.66,274.67 L258.02,276.58 L262.38,277.97 L266.74,278.84 L271.10,279.41 L275.46,279.96 L279.82,280.31 L284.18,280.64 L288.54,280.86 L292.90,281.07 L297.26,281.24 L301.62,281.38 L305.98,281.50 L310.34,281.59 L314.70,281.71 L319.06,281.82 L323.42,281.90 L327.78,281.99 L332.14,282.04 L336.50,282.10 L340.86,282.15 L345.22,282.21 L349.58,282.24 L353.94,282.29 L358.30,282.35" fill="none" stroke="#008000" stroke-width="1.3" stroke-linejoin="round"/>
<circle cx="231.86" cy="204.82" r="2.0" fill="#008000"/>
<circle cx="236.22" cy="225.96" r="2.0" fill="#008000"/>
<circle cx="240.58" cy="240.90" r="2.0" fill="#008000"/>
<circle cx="244.94" cy="262.88" r="2.0" fill="#008000"/>
<circle cx="249.30" cy="270.80" r="2.0" fill="#008000"/>
<circle cx="253.66" cy="274.67" r="2.0" fill="#008000"/>
<circle cx="258.02" cy="276.58" r="2.0" fill="#008000"/>
<circle cx="262.38" cy="277.97" r="2.0" fill="#008000"/>
<circle cx="266.74" cy="278.84" r="2.0" fill="#008000"/>
<circle cx="271.10" cy="279.41" r="2.0" fill="#008000"/>
<circle cx="275.46" cy="279.96" r="2.0" fill="#008000"/>
<circle cx="279.82" cy="280.31" r="2.0" fill="#008000"/>
<circle cx="284.18" cy="280.64" r="2.0" fill="#008000"/>
<circle cx="288.54" cy="280.86" r="2.0" fill="#008000"/>
<circle cx="292.90" cy="281.07" r="2.0" fill="#008000"/>
<circle cx="297.26" cy="281.24" r="2.0" fill="#008000"/>
<circle cx="301.62" cy="281.38" r="2.0" fill="#008000"/>
<circle cx="305.98" cy="281.50" r="2.0" fill="#008000"/>
<circle cx="310.34" cy="281.59" r="2.0" fill="#008000"/>
<circle cx="314.70" cy="281.71" r="2.0" fill="#008000"/>
<circle cx="319.06" cy="281.82" r="2.0" fill="#008000"/>
<circle cx="323.42" cy="281.90" r="2.0" fill="#008000"/>
<circle cx="327.78" cy="281.99" r="2.0" fill="#008000"/>
<circle cx="332.14" cy="282.04" r="2.0" fill="#008000"/>
<circle cx="336.50" cy="282.10" r="2.0" fill="#008000"/>
<circle cx="340.86" cy="282.15" r="2.0" fill="#008000"/>
<circle cx="345.22" cy="282.21" r="2.0" fill="#008000"/>
<circle cx="349.58" cy="282.24" r="2.0" fill="#008000"/>
<circle cx="353.94" cy="282.29" r="2.0" fill="#008000"/>
<circle cx="358.30" cy="282.35" r="2.0" fill="#008000"/>
<text x="204.9" y="203.1" font-size="9.2" text-anchor="end" fill="#000" textLength="8.46" lengthAdjust="spacingAndGlyphs">30</text>
<text x="204.9" y="231.2" font-size="9.2" text-anchor="end" fill="#000" textLength="8.46" lengthAdjust="spacingAndGlyphs">20</text>
<text x="204.9" y="259.4" font-size="9.2" text-anchor="end" fill="#000" textLength="8.46" lengthAdjust="spacingAndGlyphs">10</text>
<text x="204.9" y="287.0" font-size="9.2" text-anchor="end" fill="#000" textLength="4.23" lengthAdjust="spacingAndGlyphs">0</text>
<text x="205.7" y="293.0" font-size="9.2" text-anchor="middle" fill="#000" textLength="4.23" lengthAdjust="spacingAndGlyphs">0</text>
<text x="249.3" y="293.0" font-size="9.2" text-anchor="middle" fill="#000" textLength="10.58" lengthAdjust="spacingAndGlyphs">0.1</text>
<text x="292.90000000000003" y="293.0" font-size="9.2" text-anchor="middle" fill="#000" textLength="10.58" lengthAdjust="spacingAndGlyphs">0.2</text>
<text x="336.5" y="293.0" font-size="9.2" text-anchor="middle" fill="#000" textLength="10.58" lengthAdjust="spacingAndGlyphs">0.3</text>
<text x="276.9" y="301.0" font-size="10" text-anchor="middle" fill="#000" >temperature</text>
<g transform="translate(213.90,249.00) scale(0.656,0.717)" fill="none" stroke="#ff0000" stroke-linecap="round"><path d="M0.45,3.1 C0.6,1.6 1.4,0.55 2.3,0.6 C3.2,0.7 3.7,1.8 4.1,3.0 L6.2,9.6 C6.5,10.7 7.1,11.4 7.8,11.1 C8.3,10.9 8.5,10.4 8.6,9.8" stroke-width="1.2"/><path d="M7.7,0.9 L1.1,11.3" stroke-width="1.6"/></g>
<text fill="#ff0000"><tspan x="220.0" y="249.6" font-size="7.3">s</tspan><tspan x="223.0" y="256.0" font-size="10.7">(Q)</tspan></text>
<g transform="translate(241.80,223.70) scale(0.644,0.700)" fill="none" stroke="#008000" stroke-linecap="round"><path d="M0.45,3.1 C0.6,1.6 1.4,0.55 2.3,0.6 C3.2,0.7 3.7,1.8 4.1,3.0 L6.2,9.6 C6.5,10.7 7.1,11.4 7.8,11.1 C8.3,10.9 8.5,10.4 8.6,9.8" stroke-width="1.2"/><path d="M7.7,0.9 L1.1,11.3" stroke-width="1.6"/></g>
<text fill="#008000"><tspan x="247.9" y="225.4" font-size="8.3">q</tspan><tspan x="249.8" y="232.3" font-size="7.5">x</tspan><tspan x="254.2" y="230.6" font-size="4.6">2</tspan><tspan x="256.8" y="233.0" font-size="6.6">−</tspan><tspan x="260.4" y="232.3" font-size="7.5">y</tspan><tspan x="264.9" y="230.6" font-size="4.6">2</tspan><tspan x="267.6" y="231.8" font-size="10.3">(0)</tspan></text>
</g></svg></body></html>
